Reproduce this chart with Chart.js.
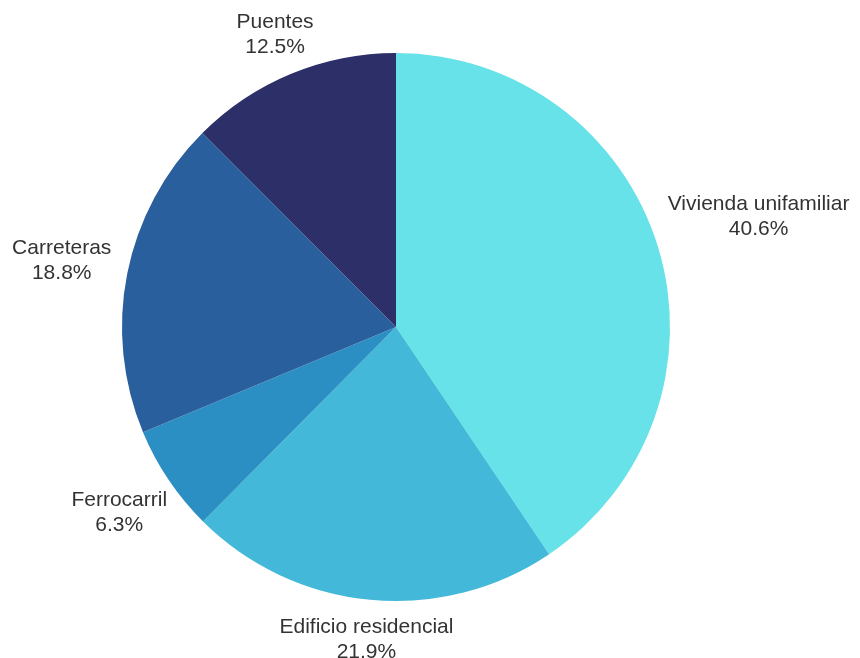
<!DOCTYPE html>
<html>
<head>
<meta charset="utf-8">
<script src="https://cdn.jsdelivr.net/npm/chart.js@4.4.0/dist/chart.umd.min.js"></script>
<style>
  html, body { margin: 0; padding: 0; background: #fff; }
  #wrap { width: 860px; height: 658px; }
</style>
</head>
<body>
<div id="wrap"><canvas id="pie" width="860" height="658"></canvas></div>
<script>
const categories = ["Vivienda unifamiliar", "Edificio residencial", "Ferrocarril", "Carreteras", "Puentes"];
const shares = [40.6, 21.9, 6.3, 18.8, 12.5];
const sliceColors = ["#66e2e8", "#43b8d8", "#2c8fc3", "#2a5f9e", "#2c2f68"];

const labelFont = "21px 'Liberation Sans', Arial, sans-serif";
const lineGap = 25;

// outside labels: name on top, percent below, pushed out along the slice's middle angle
const outsideLabels = {
  id: "outsideLabels",
  afterDraw(chart) {
    const ctx = chart.ctx;
    const meta = chart.getDatasetMeta(0);
    ctx.save();
    ctx.font = labelFont;
    ctx.fillStyle = "#333";
    ctx.textAlign = "center";
    ctx.textBaseline = "middle";
    meta.data.forEach((arc, i) => {
      const p = arc.getProps(["x", "y", "startAngle", "endAngle", "outerRadius"], true);
      const mid = (p.startAngle + p.endAngle) / 2;
      const ux = Math.cos(mid), uy = Math.sin(mid);
      const name = categories[i];
      const pct = shares[i].toFixed(1) + "%";
      const w = Math.max(ctx.measureText(name).width, ctx.measureText(pct).width);
      const h = 42;
      const reach = Math.sqrt(Math.pow(w / 2 * ux, 2) + Math.pow(h / 2 * uy, 2));
      const d = p.outerRadius + 18 + reach;
      const cx = p.x + ux * d, cy = p.y + uy * d;
      ctx.fillText(name, cx, cy - lineGap / 2);
      ctx.fillText(pct, cx, cy + lineGap / 2);
    });
    ctx.restore();
  }
};

new Chart(document.getElementById("pie"), {
  type: "pie",
  data: {
    labels: categories,
    datasets: [{
      data: shares,
      backgroundColor: sliceColors,
      borderWidth: 0,
      hoverOffset: 0
    }]
  },
  options: {
    responsive: false,
    devicePixelRatio: 1,
    animation: false,
    layout: { padding: { top: 53, bottom: 57, left: 0, right: 68 } },
    plugins: {
      legend: { display: false },
      tooltip: { enabled: false }
    }
  },
  plugins: [outsideLabels]
});
</script>
</body>
</html>
